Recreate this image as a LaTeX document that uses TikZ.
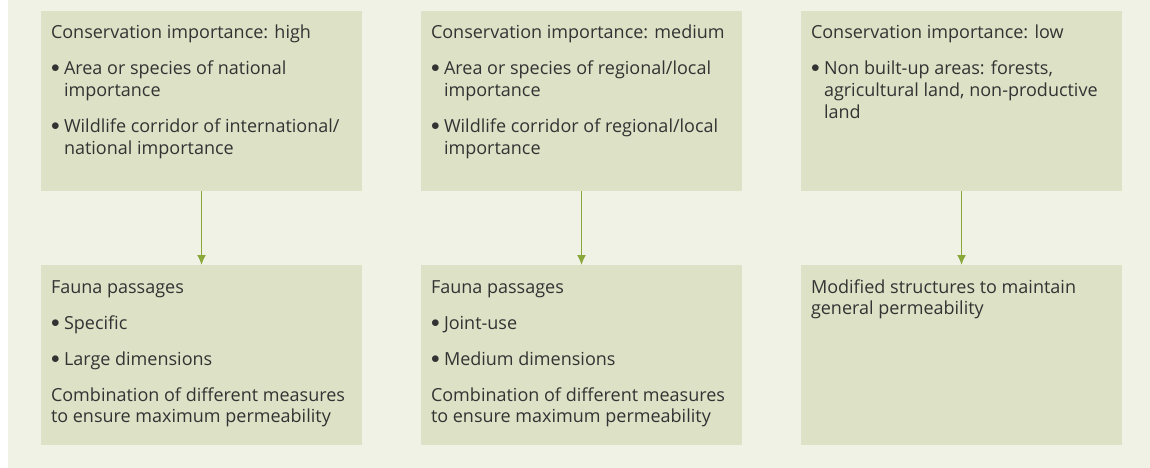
\documentclass[tikz,border=0pt]{standalone}
\usepackage{fontspec}
\setmainfont{Open Sans}
\usetikzlibrary{positioning,arrows.meta}
\definecolor{panelgreen}{RGB}{240,242,230}
\definecolor{boxgreen}{RGB}{221,225,198}
\definecolor{arrowgreen}{RGB}{138,168,58}
\definecolor{textgrey}{RGB}{51,51,51}
\newcommand{\bul}[1]{\par\hangindent=13pt\hangafter=1\makebox[13pt][l]{\raisebox{2pt}{$\bullet$}}#1}
\newcommand{\boxtext}[1]{\parbox[t][180pt][t]{301pt}{\raggedright\rule{0pt}{28pt}\parskip=14.3pt #1}}

\begin{document}
\begin{tikzpicture}[x=1pt,y=-1pt,
	panel/.style={fill=boxgreen,inner xsep=10pt,inner ysep=0pt,outer sep=0pt,anchor=north west,text=textgrey,font=\fontsize{18}{21.7}\selectfont},
	link/.style={draw=arrowgreen,line width=1.6pt,-{Latex[length=10pt,width=9pt]}}
]
	\useasboundingbox (0,0) rectangle (1150,468);
	\fill[panelgreen] (8,0) rectangle (1150,468);
	% top row
	\node[panel] (high) at (41,11) {\boxtext{Conservation importance: high
		\bul{Area or species of national\newline importance}
		\bul{Wildlife corridor of international/\newline national importance}}};
	\node[panel,right=59pt of high] (medium) {\boxtext{Conservation importance: medium
		\bul{Area or species of regional/local\newline importance}
		\bul{Wildlife corridor of regional/local\newline importance}}};
	\node[panel,right=59pt of medium] (low) {\boxtext{Conservation importance: low
		\bul{Non built-up areas: forests,\newline agricultural land, non-productive\newline land}}};
	% bottom row
	\node[panel,below=74pt of high] (highpass) {\boxtext{Fauna passages
		\bul{Specific}
		\bul{Large dimensions}
		\par Combination of different measures\newline to ensure maximum permeability}};
	\node[panel,below=74pt of medium] (mediumpass) {\boxtext{Fauna passages
		\bul{Joint-use}
		\bul{Medium dimensions}
		\par Combination of different measures\newline to ensure maximum permeability}};
	\node[panel,below=74pt of low] (lowpass) {\boxtext{Modified structures to maintain\newline general permeability}};
	\draw[link] (high) -- (highpass);
	\draw[link] (medium) -- (mediumpass);
	\draw[link] (low) -- (lowpass);
\end{tikzpicture}
\end{document}
